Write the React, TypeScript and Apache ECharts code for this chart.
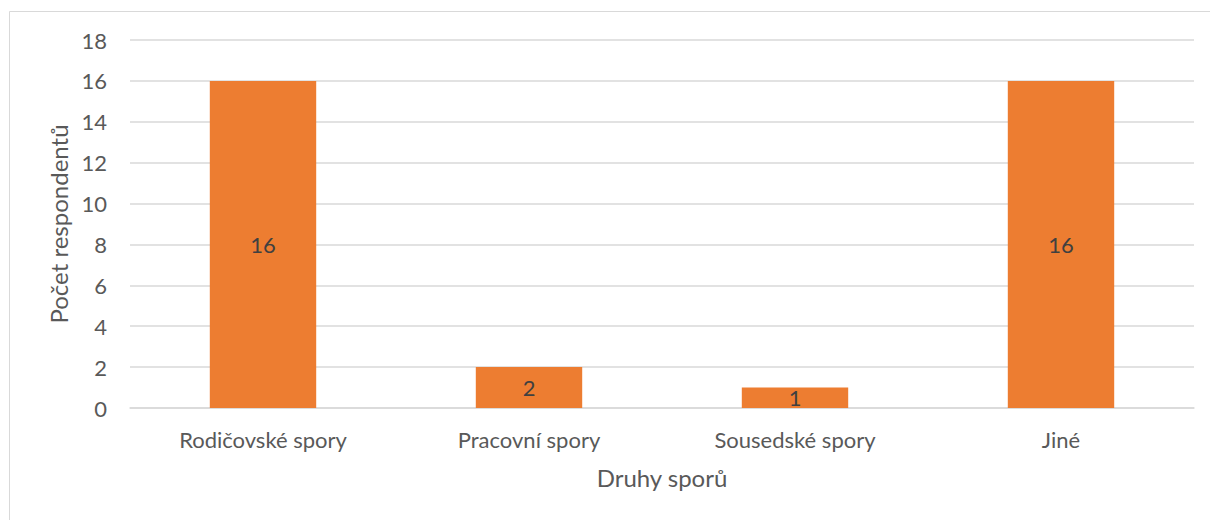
import React, { useEffect, useRef } from "react";
import * as echarts from "echarts";

const categories = ["Rodičovské spory", "Pracovní spory", "Sousedské spory", "Jiné"];
const values = [16, 2, 1, 16];
const yTicks = { min: 0, max: 18, interval: 2 };
const xName = "Druhy sporů";
const yName = "Počet respondentů";

const FONT = "Lato";

export default function App() {
  const ref = useRef<HTMLDivElement>(null);
  useEffect(() => {
    document.body.style.margin = "0";
    const chart = echarts.init(ref.current!, undefined, { renderer: "svg" });
    chart.setOption({
      animation: false,
      backgroundColor: "#ffffff",
      textStyle: { fontFamily: FONT },
      graphic: [
        {
          type: "rect",
          shape: { x: 9.5, y: 11.5, width: 1400, height: 700 },
          style: { fill: "none", stroke: "#d9d9d9", lineWidth: 1 },
          silent: true,
          z: -10,
        },
      ],
      grid: { left: 130, right: 16, top: 40, bottom: 112 },
      xAxis: {
        type: "category",
        data: categories,
        name: xName,
        nameLocation: "middle",
        nameGap: 57,
        nameTextStyle: { color: "#595959", fontSize: 24, fontFamily: FONT },
        axisLine: { show: true, lineStyle: { color: "#d9d9d9", width: 1.5 } },
        axisTick: { show: false },
        axisLabel: { color: "#595959", fontSize: 22, margin: 20, fontFamily: FONT },
      },
      yAxis: {
        type: "value",
        min: yTicks.min,
        max: yTicks.max,
        interval: yTicks.interval,
        name: yName,
        nameLocation: "middle",
        nameGap: 54,
        nameTextStyle: { color: "#595959", fontSize: 24, fontFamily: FONT },
        axisLine: { show: false },
        axisTick: { show: false },
        axisLabel: { color: "#595959", fontSize: 22, margin: 23, fontFamily: FONT },
        splitLine: { lineStyle: { color: "#d9d9d9", width: 1.5 } },
      },
      series: [
        {
          type: "bar",
          data: values,
          barWidth: "40%",
          itemStyle: { color: "#ED7D31" },
          label: {
            show: true,
            position: "inside",
            color: "#404040",
            fontSize: 22,
            fontFamily: FONT,
          },
        },
      ],
    });
    return () => chart.dispose();
  }, []);
  return <div ref={ref} style={{ width: 1210, height: 520 }} />;
}
